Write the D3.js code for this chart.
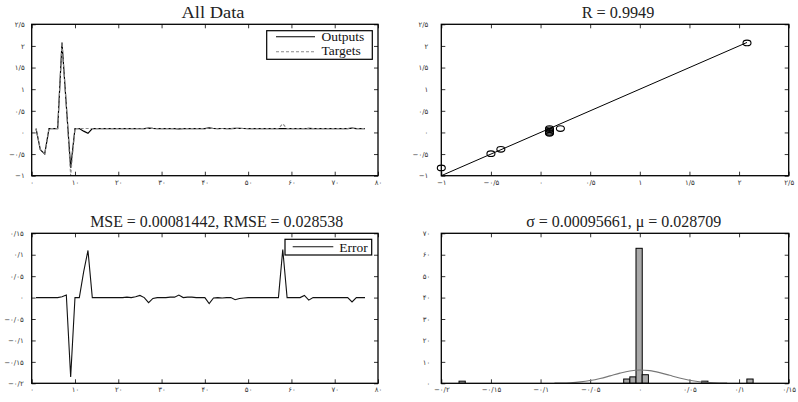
<!DOCTYPE html>
<html><head><meta charset="utf-8">
<script src="https://cdn.jsdelivr.net/npm/d3@7"></script>
<style>body{margin:0;background:#fff}svg{display:block}</style></head>
<body>
<script>
// ---------- DATA ----------
const sampleIndex = d3.range(1, 78);
const targets = [
  0.09,-0.4,-0.5,0.09,0.09,0.09,2.08,0.625,-1.0,0.09,
  0.09,0.09,0.09,0.09,0.09,0.09,0.09,0.09,0.09,0.09,
  0.09,0.09,0.09,0.09,0.09,0.09,0.09,0.09,0.09,0.09,
  0.09,0.09,0.09,0.09,0.09,0.09,0.09,0.09,0.09,0.09,
  0.09,0.09,0.09,0.09,0.09,0.09,0.09,0.09,0.09,0.09,
  0.09,0.09,0.09,0.09,0.09,0.09,0.09,0.2,0.09,0.09,
  0.09,0.09,0.09,0.09,0.09,0.09,0.09,0.09,0.09,0.09,
  0.09,0.09,0.09,0.09,0.09,0.09,0.09];
const outputs = [
  0.09,-0.4,-0.5,0.09,0.09,0.09,2.078,0.619,-0.815,0.09,
  0.09,0.03,-0.02,0.09,0.09,0.09,0.09,0.09,0.09,0.09,
  0.09,0.089,0.09,0.088,0.085,0.09,0.102,0.092,0.09,0.09,
  0.09,0.089,0.089,0.084,0.09,0.089,0.089,0.09,0.09,0.09,
  0.104,0.091,0.09,0.091,0.09,0.09,0.095,0.092,0.091,0.09,
  0.09,0.09,0.09,0.09,0.09,0.09,0.09,0.088,0.09,0.09,
  0.09,0.09,0.085,0.096,0.09,0.09,0.09,0.09,0.09,0.09,
  0.09,0.09,0.09,0.1,0.09,0.09,0.09];
const errors = [
  0,0,0,0,0,0,0.002,0.006,-0.185,0,
  0,0.06,0.11,0,0,0,0,0,0,0,
  0,0.001,0,0.002,0.005,0,-0.012,-0.002,0,0,
  0,0.001,0.001,0.006,0,0.001,0.001,0,0,0,
  -0.014,-0.001,0,-0.001,0,0,-0.005,-0.002,-0.001,0,
  0,0,0,0,0,0,0,0.112,0,0,
  0,0,0.005,-0.006,0,0,0,0,0,0,
  0,0,0,-0.01,0,0,0];
const scatterTargets = [-1,-0.5,-0.4,0.09,0.09,0.09,0.09,0.09,0.2,2.08];
const scatterOutputs = [-0.82,-0.49,-0.39,0.09,0.06,0.03,0.0,-0.02,0.09,2.07];
const fitX = [-1, 2.08];
const fitY = [-1, 2.08];
const histCenters = [-0.179,-0.0131,-0.0069,-0.0007,0.0055,0.0655,0.111];
const histCounts  = [1,2,3,63,4,1,2];
const histBinWidth = 0.0063;
const fitCurveX = [-0.086,-0.08,-0.07,-0.06,-0.05,-0.04,-0.03,-0.02,-0.01,0,0.01,0.02,0.03,0.04,0.05,0.06,0.07,0.08,0.088];
const fitCurveY = [0.07,0.12,0.29,0.65,1.28,2.23,3.46,4.74,5.76,6.19,5.9,4.98,3.72,2.47,1.44,0.75,0.35,0.14,0.07];

const ticksIdx = [0,10,20,30,40,50,60,70,80];
const ticksIdxLabels = ["۰","۱۰","۲۰","۳۰","۴۰","۵۰","۶۰","۷۰","۸۰"];
const ticksBig = [-1,-0.5,0,0.5,1,1.5,2,2.5];
const ticksBigLabels = ["−۱","−۰/۵","۰","۰/۵","۱","۱/۵","۲","۲/۵"];
const ticksErr = [-0.2,-0.15,-0.1,-0.05,0,0.05,0.1,0.15];
const ticksErrLabels = ["−۰/۲","−۰/۱۵","−۰/۱","−۰/۰۵","۰","۰/۰۵","۰/۱","۰/۱۵"];
const ticksCount = [0,10,20,30,40,50,60,70];
const ticksCountLabels = ["۰","۱۰","۲۰","۳۰","۴۰","۵۰","۶۰","۷۰"];

// ---------- DRAW ----------
const W = 798, H = 402;
const svg = d3.select("body").append("svg").attr("width", W).attr("height", H);
const serif = "'Liberation Serif','Times New Roman',serif";
const tickFont = "'DejaVu Sans',sans-serif";

function panel(o) {
  const x = d3.scaleLinear().domain(o.xd).range([o.l, o.r]);
  const y = d3.scaleLinear().domain(o.yd).range([o.b, o.t]);
  const g = svg.append("g");
  const id = "clip" + Math.round(o.l) + "_" + Math.round(o.t);
  svg.append("clipPath").attr("id", id).append("rect")
    .attr("x", o.l).attr("y", o.t).attr("width", o.r - o.l).attr("height", o.b - o.t);
  const mk = (axis, vals, labels, tr, showLabels, pad) => {
    const a = axis.tickValues(vals).tickSize(-4).tickPadding(pad)
      .tickFormat((d, i) => showLabels ? labels[i] : "");
    const ag = g.append("g").attr("transform", tr).call(a);
    ag.select(".domain").remove();
    ag.selectAll("line").attr("stroke", "#000").attr("stroke-width", 0.8);
    ag.selectAll("text").attr("font-family", tickFont).attr("font-size", 7).attr("fill", "#333");
  };
  mk(d3.axisBottom(x), o.xt, o.xl, `translate(0,${o.b})`, true, 4);
  mk(d3.axisTop(x), o.xt, o.xl, `translate(0,${o.t})`, false, 0);
  mk(d3.axisLeft(y), o.yt, o.yl, `translate(${o.l},0)`, true, o.ypad);
  mk(d3.axisRight(y), o.yt, o.yl, `translate(${o.r},0)`, false, 0);
  const plot = g.append("g").attr("clip-path", `url(#${id})`);
  const free = g.append("g");
  g.append("rect").attr("x", o.l).attr("y", o.t).attr("width", o.r - o.l).attr("height", o.b - o.t)
    .attr("fill", "none").attr("stroke", "#000").attr("stroke-width", 1.3);
  svg.append("text").attr("x", o.tx).attr("y", o.ty).attr("text-anchor", "middle")
    .attr("font-family", serif).attr("font-size", 16).attr("fill", "#222")
    .attr("textLength", o.tw).attr("lengthAdjust", "spacingAndGlyphs").text(o.title);
  return {x, y, g, plot, free};
}

const L1 = 31.7, R1 = 378, L2 = 441.3, R2 = 788.7;
const T1 = 24.3, B1 = 175.7, T2 = 233.3, B2 = 383.3;

// Top-left: All Data
const p1 = panel({l:L1,r:R1,t:T1,b:B1,xd:[0,80],yd:[-1,2.5],xt:ticksIdx,xl:ticksIdxLabels,
  yt:ticksBig,yl:ticksBigLabels,ypad:7,title:"All Data",tx:213,ty:18,tw:63});
const line1 = d3.line().x((d,i)=>p1.x(sampleIndex[i])).y(d=>p1.y(d));
p1.plot.append("path").attr("d", line1(outputs)).attr("fill","none").attr("stroke","#000").attr("stroke-width",1.2);
p1.plot.append("path").attr("d", line1(targets)).attr("fill","none").attr("stroke","#8a8a8a")
  .attr("stroke-width",1.1).attr("stroke-dasharray","3,2");
// legend
{
  const lg = svg.append("g");
  lg.append("rect").attr("x",266.7).attr("y",30.7).attr("width",105.6).attr("height",28.6)
    .attr("fill","#fff").attr("stroke","#000").attr("stroke-width",1.2);
  lg.append("line").attr("x1",276).attr("x2",315).attr("y1",36.7).attr("y2",36.7).attr("stroke","#000").attr("stroke-width",1.1);
  lg.append("line").attr("x1",276).attr("x2",315).attr("y1",51.7).attr("y2",51.7).attr("stroke","#8a8a8a")
    .attr("stroke-width",1.1).attr("stroke-dasharray","3,2");
  lg.append("text").attr("x",321.5).attr("y",40.5).attr("font-family",serif).attr("font-size",13.5).attr("fill","#111").text("Outputs");
  lg.append("text").attr("x",321.5).attr("y",54.5).attr("font-family",serif).attr("font-size",13.5).attr("fill","#111").text("Targets");
}

// Top-right: regression
const p2 = panel({l:L2,r:R2,t:T1,b:B1,xd:[-1,2.5],yd:[-1,2.5],xt:ticksBig,xl:ticksBigLabels,
  yt:ticksBig,yl:ticksBigLabels,ypad:13,title:"R = 0.9949",tx:618,ty:18,tw:72.7});
p2.plot.append("line").attr("x1",p2.x(fitX[0])).attr("y1",p2.y(fitY[0])).attr("x2",p2.x(fitX[1])).attr("y2",p2.y(fitY[1]))
  .attr("stroke","#000").attr("stroke-width",1);
p2.free.selectAll("ellipse").data(scatterTargets).enter().append("ellipse")
  .attr("cx",d=>p2.x(d)).attr("cy",(d,i)=>p2.y(scatterOutputs[i])).attr("rx",4).attr("ry",2.8)
  .attr("fill","none").attr("stroke","#000").attr("stroke-width",1.1);

// Bottom-left: error
const p3 = panel({l:L1,r:R1,t:T2,b:B2,xd:[0,80],yd:[-0.2,0.15],xt:ticksIdx,xl:ticksIdxLabels,
  yt:ticksErr,yl:ticksErrLabels,ypad:8,title:"MSE = 0.00081442, RMSE = 0.028538",tx:216.7,ty:227.3,tw:253});
p3.plot.append("path").attr("d", d3.line().x((d,i)=>p3.x(sampleIndex[i])).y(d=>p3.y(d))(errors))
  .attr("fill","none").attr("stroke","#111").attr("stroke-width",1.1);
{
  const lg = svg.append("g");
  lg.append("rect").attr("x",285).attr("y",239.3).attr("width",86.7).attr("height",15.7)
    .attr("fill","#fff").attr("stroke","#000").attr("stroke-width",1.2);
  lg.append("line").attr("x1",292.7).attr("x2",333.3).attr("y1",246.7).attr("y2",246.7).attr("stroke","#111").attr("stroke-width",1.1);
  lg.append("text").attr("x",339.3).attr("y",251.5).attr("font-family",serif).attr("font-size",13.5).attr("fill","#111").text("Error");
}

// Bottom-right: histogram
const p4 = panel({l:L2,r:R2,t:T2,b:B2,xd:[-0.2,0.15],yd:[0,70],xt:ticksErr,xl:ticksErrLabels,
  yt:ticksCount,yl:ticksCountLabels,ypad:11,title:"σ = 0.00095661, μ = 0.028709",tx:623.7,ty:227.3,tw:195});
p4.plot.selectAll("rect.bar").data(histCenters).enter().append("rect").attr("class","bar")
  .attr("x",d=>p4.x(d - histBinWidth/2)).attr("width",d=>p4.x(d + histBinWidth/2)-p4.x(d - histBinWidth/2))
  .attr("y",(d,i)=>p4.y(histCounts[i])).attr("height",(d,i)=>p4.y(0)-p4.y(histCounts[i]))
  .attr("fill","#a9a9a9").attr("stroke","#000").attr("stroke-width",1);
p4.plot.append("path").attr("d", d3.line().curve(d3.curveMonotoneX).x(d=>p4.x(d)).y((d,i)=>p4.y(fitCurveY[i]))(fitCurveX))
  .attr("fill","none").attr("stroke","#777").attr("stroke-width",1.1);
</script>
</body></html>
